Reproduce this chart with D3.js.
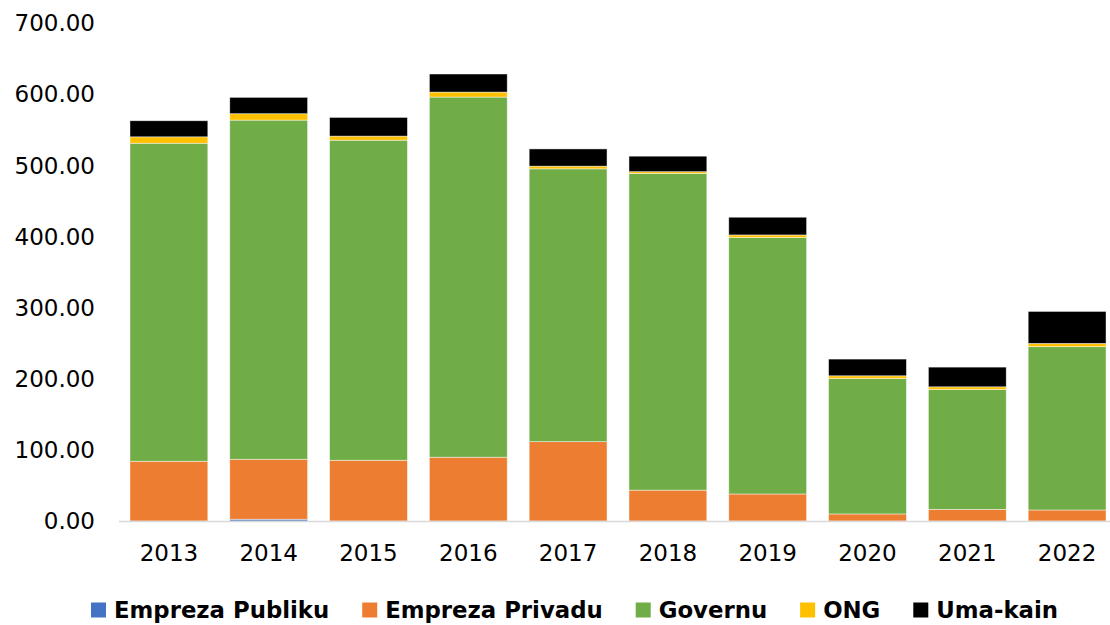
<!DOCTYPE html>
<html>
<head>
<meta charset="utf-8">
<script src="https://cdn.jsdelivr.net/npm/d3@7"></script>
<style>
  body { margin: 0; background: #fff; }
  text { font-family: "DejaVu Sans", sans-serif; fill: #000; }
</style>
</head>
<body>
<svg></svg>
<script>
var years = ["2013", "2014", "2015", "2016", "2017", "2018", "2019", "2020", "2021", "2022"];
var seriesNames = ["Empreza Publiku", "Empreza Privadu", "Governu", "ONG", "Uma-kain"];
var seriesColors = ["#4472C4", "#ED7D31", "#70AD47", "#FFC000", "#000000"];

var publiku = [0, 2.5, 0, 0, 0, 0, 0, 0, 0, 0];
var privadu = [84, 84.3, 85.4, 89.7, 111.5, 43.4, 38, 9.9, 16.4, 15.5];
var governu = [447, 476.7, 449.9, 506.2, 383.5, 445.1, 360.4, 190.4, 168.4, 229.5];
var ong = [9, 9, 5.7, 7, 3.8, 2.5, 3.7, 3.8, 3.8, 4.6];
var umaKain = [22.6, 23, 26.3, 25.4, 24.2, 21.8, 24.9, 23.5, 27.7, 45];
var yTicks = [0, 100, 200, 300, 400, 500, 600, 700];

var width = 1110;
var height = 625;

var rows = years.map((y, i) => ({
  year: y,
  "Empreza Publiku": publiku[i],
  "Empreza Privadu": privadu[i],
  "Governu": governu[i],
  "ONG": ong[i],
  "Uma-kain": umaKain[i]
}));

var svg = d3.select("svg")
              .attr("width", width)
              .attr("height", height);

var x = d3.scaleBand()
            .domain(years)
            .range([119, 1117])
            .paddingInner(0.22)
            .paddingOuter(0.11);

var y = d3.scaleLinear()
            .domain([0, 700])
            .range([521, 23]);

var color = d3.scaleOrdinal()
                .domain(seriesNames)
                .range(seriesColors);

var stack = d3.stack().keys(seriesNames);

// y tick labels (no axis line, no gridlines)
svg.append("g")
    .selectAll("text")
    .data(yTicks)
    .enter()
    .append("text")
      .attr("x", 95)
      .attr("y", d => y(d))
      .attr("dy", "0.36em")
      .attr("text-anchor", "end")
      .style("font-size", "23px")
      .text(d => d3.format(".2f")(d));

// stacked bars
svg.append("g")
    .selectAll("g")
    .data(stack(rows))
    .enter()
    .append("g")
      .attr("fill", d => color(d.key))
    .selectAll("rect")
    .data(d => d)
    .enter()
    .append("rect")
      .attr("x", d => x(d.data.year))
      .attr("width", x.bandwidth())
      .attr("y", d => y(d[1]))
      .attr("height", d => y(d[0]) - y(d[1]))
      .attr("stroke", "rgba(255,255,255,0.6)")
      .attr("stroke-width", 0.75);

// baseline
svg.append("line")
    .attr("x1", x.range()[0])
    .attr("x2", x.range()[1])
    .attr("y1", y(0) + 0.5)
    .attr("y2", y(0) + 0.5)
    .attr("stroke", "#d9d9d9")
    .attr("stroke-width", 1.5);

// x labels
svg.append("g")
    .selectAll("text")
    .data(years)
    .enter()
    .append("text")
      .attr("x", d => x(d) + x.bandwidth() / 2)
      .attr("y", 553)
      .attr("dy", "0.36em")
      .attr("text-anchor", "middle")
      .style("font-size", "23px")
      .text(d => d);

// legend
var legend = svg.append("g").attr("transform", "translate(0,610)");

var items = legend.selectAll("g")
    .data(seriesNames)
    .enter()
    .append("g");

items.append("rect")
    .attr("width", 15)
    .attr("height", 15)
    .attr("y", -7.5)
    .attr("fill", d => color(d));

items.append("text")
    .attr("x", 23)
    .attr("dy", "0.36em")
    .style("font-size", "22.8px")
    .style("font-weight", "bold")
    .text(d => d);

// lay legend items out in a row, centred
var gap = 33;
var widths = [];
items.each(function() { widths.push(23 + this.querySelector("text").getComputedTextLength()); });
var total = d3.sum(widths) + gap * (widths.length - 1);
var cx = 574.5 - total / 2;
items.attr("transform", (d, i) => {
  var pos = cx;
  cx += widths[i] + gap;
  return "translate(" + pos + ",0)";
});
</script>
</body>
</html>
